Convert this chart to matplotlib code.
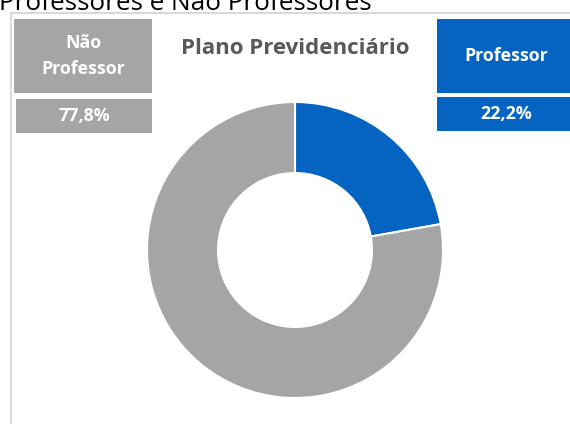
import matplotlib
matplotlib.use("Agg")
import matplotlib.pyplot as plt
from matplotlib.patches import Rectangle

categories = ["Professor", "Não Professor"]
values = [22.2, 77.8]
value_labels = ["22,2%", "77,8%"]
colors = ["#0563c1", "#a5a5a5"]
title_top = "Professores e Não Professores"
chart_title = "Plano Previdenciário"

plt.rcParams['font.family'] = ['Open Sans', 'DejaVu Sans']

W, H = 570, 424
fig = plt.figure(figsize=(W / 100, H / 100), dpi=100)
ax = fig.add_axes([0, 0, 1, 1])

def Y(y):
    return H - y

# donut
ax.pie(values, colors=colors, startangle=90, counterclock=False,
       center=(295, Y(250)), radius=148, frame=True,
       wedgeprops=dict(width=148 * 0.48, edgecolor='white', linewidth=1.5))
ax.set_xlim(0, W)
ax.set_ylim(0, H)
ax.set_aspect('auto')
ax.axis('off')

# chart border
ax.add_patch(Rectangle((10.5, Y(440)), 600, 440 - 13, fill=False,
                       edgecolor="#d9d9d9", linewidth=1.5))

# outer top title (cut off at the top edge, as in the reference)
ax.text(-1, Y(10), title_top, fontsize=18.8, color="#000000",
        ha='left', va='baseline')

ax.text(295, Y(49), chart_title, fontsize=16, fontweight='bold',
        color="#595959", ha='center', va='center')

# label boxes
def box(x0, y0, x1, y1, color, text, fs, ls=1.35):
    ax.add_patch(Rectangle((x0, Y(y1)), x1 - x0, y1 - y0, facecolor=color,
                           edgecolor='none'))
    ax.text((x0 + x1) / 2, Y((y0 + y1) / 2), text, fontsize=fs,
            fontweight='bold', color='white', ha='center', va='center',
            linespacing=ls)

box(14, 19, 152, 93, colors[1], "Não\nProfessor", 12.8, 1.55)
box(16, 99, 152, 133, colors[1], value_labels[1], 12.8)
box(437, 19, 575, 93, colors[0], categories[0], 12.8)
box(437, 97, 575, 131, colors[0], value_labels[0], 12.8)

fig.savefig("out.png", dpi=100)
